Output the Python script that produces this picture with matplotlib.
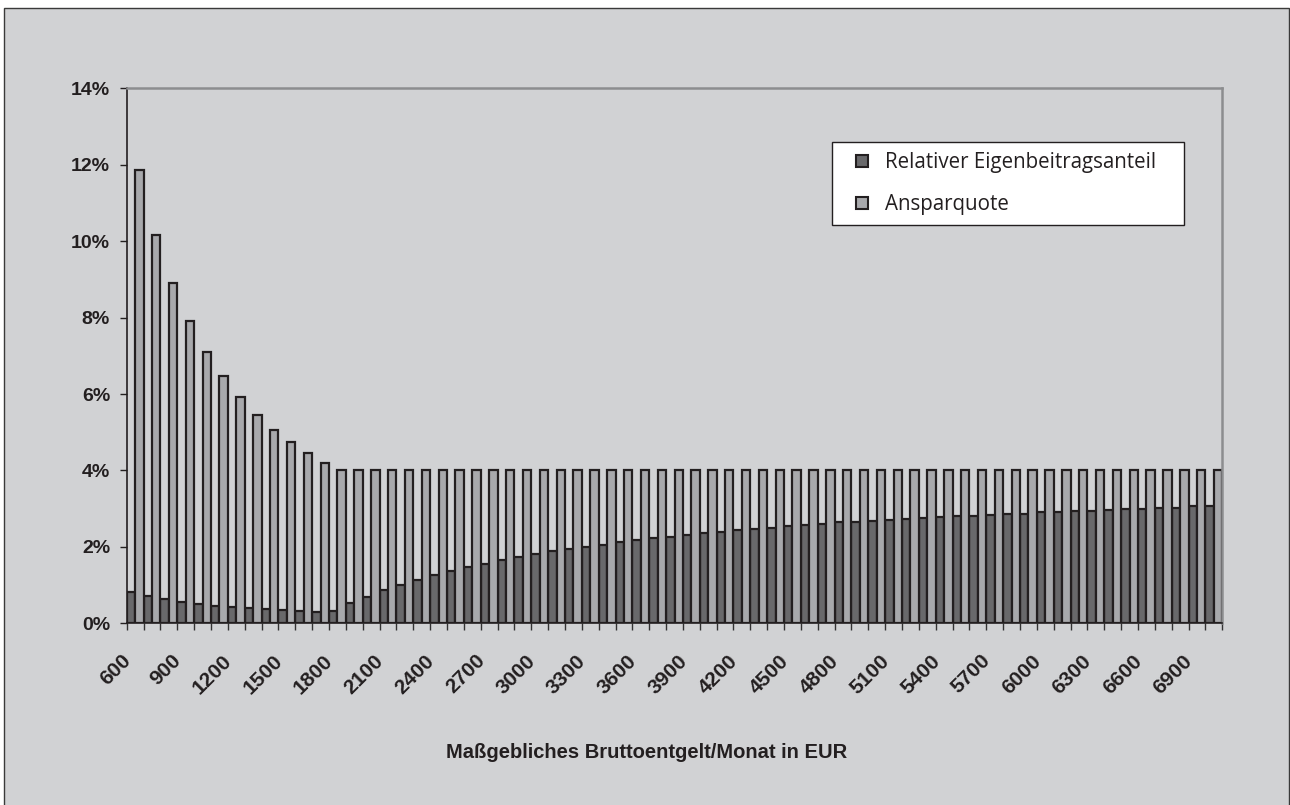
import matplotlib
matplotlib.use("Agg")
import matplotlib.pyplot as plt
import matplotlib.transforms as mtransforms
from matplotlib.patches import Rectangle
from matplotlib.lines import Line2D
import numpy as np

# categories: gross monthly income in EUR
income = np.arange(600, 7100, 100)

# Relativer Eigenbeitragsanteil (%)
eigenbeitrag = [
    0.83, 0.72, 0.63, 0.55, 0.51, 0.46, 0.43, 0.39, 0.37, 0.34, 0.31, 0.30, 0.33,
    0.53, 0.70, 0.86, 1.01, 1.14, 1.27, 1.37, 1.47, 1.56, 1.65, 1.73, 1.81,
    1.88, 1.95, 2.00, 2.06, 2.12, 2.17, 2.23, 2.27, 2.31, 2.36,
    2.40, 2.44, 2.47, 2.50, 2.54, 2.58, 2.60, 2.64, 2.66, 2.69,
    2.71, 2.73, 2.75, 2.78, 2.80, 2.82, 2.84, 2.86, 2.87, 2.90,
    2.92, 2.93, 2.95, 2.97, 2.99, 3.00, 3.01, 3.03, 3.06, 3.07,
]

# Ansparquote (%)
ansparquote = [
    11.87, 10.16, 8.90, 7.91, 7.11, 6.46, 5.92, 5.46, 5.07, 4.75, 4.45, 4.19, 4.00,
    4.00, 4.00, 4.00, 4.00, 4.00, 4.00, 4.00, 4.00, 4.00, 4.00, 4.00, 4.00,
    4.00, 4.00, 4.00, 4.00, 4.00, 4.00, 4.00, 4.00, 4.00, 4.00,
    4.00, 4.00, 4.00, 4.00, 4.00, 4.00, 4.00, 4.00, 4.00, 4.00,
    4.00, 4.00, 4.00, 4.00, 4.00, 4.00, 4.00, 4.00, 4.00, 4.00,
    4.00, 4.00, 4.00, 4.00, 4.00, 4.00, 4.00, 4.00, 4.00, 4.00,
]

yticks = [0, 2, 4, 6, 8, 10, 12, 14]
label_step = 3

BG = "#d1d2d4"
DARK = "#69696b"
LIGHT = "#a8a9ac"
EDGE = "#231f20"
W, H = 1290, 805

fig = plt.figure(figsize=(W / 100, H / 100), dpi=100, facecolor="white")

# outer frame
fig.patches.append(Rectangle((4 / W, -0.02), (1289 - 4) / W, 1 - 8 / H + 0.02,
                             transform=fig.transFigure, facecolor=BG,
                             edgecolor="#3a3a3a", lw=1.0, zorder=-10))

ax = fig.add_axes([126.7 / W, 1 - 623.3 / H, (1222.3 - 126.7) / W, (623.3 - 88.3) / H])
ax.set_facecolor("none")

x = np.arange(len(income))
ax.bar(x, eigenbeitrag, width=0.5, align="edge", color=DARK, edgecolor=EDGE, linewidth=1.6,
       label="Relativer Eigenbeitragsanteil")
ax.bar(x + 0.5, ansparquote, width=0.5, align="edge", color=LIGHT, edgecolor=EDGE, linewidth=1.6,
       label="Ansparquote")

ax.set_xlim(0, len(income))
ax.set_ylim(0, 14)

# y axis
ax.set_yticks(yticks)
ax.set_yticklabels([f"{v}%" for v in yticks], fontsize=14, fontweight="bold",
                   family="Liberation Sans", color="#231f20")
ax.tick_params(axis="y", length=5, width=1.0, pad=7, color="#231f20")

# x axis: tick marks at category boundaries, labels every 3rd category
ax.set_xticks(np.arange(len(income) + 1), minor=True)
ax.tick_params(axis="x", which="minor", length=5, width=1.0, color="#333333")
ax.set_xticks(x[::label_step] + 0.5)
ax.set_xticklabels([str(v) for v in income[::label_step]], rotation=45, ha="right",
                   va="top", rotation_mode="anchor", fontsize=15, fontweight="bold",
                   family="Liberation Sans", color="#231f20")
ax.tick_params(axis="x", which="major", length=0, pad=20)
shift = mtransforms.ScaledTranslation(-14 / 100, 0, fig.dpi_scale_trans)
for lbl in ax.get_xticklabels():
    lbl.set_transform(lbl.get_transform() + shift)

for side in ["left", "bottom"]:
    ax.spines[side].set_color("#231f20")
    ax.spines[side].set_linewidth(1.2)
for side in ["top", "right"]:
    ax.spines[side].set_color("#8c8d8f")
    ax.spines[side].set_linewidth(1.8)

fig.text(647 / W, 1 - 752 / H, "Maßgebliches Bruttoentgelt/Monat in EUR", ha="center",
         va="center", fontsize=14.5, fontweight="bold",
         family="Liberation Sans", color="#231f20")

handles = [
    Line2D([], [], marker="s", linestyle="none", markersize=9, markerfacecolor=DARK,
           markeredgecolor=EDGE, markeredgewidth=1.5),
    Line2D([], [], marker="s", linestyle="none", markersize=9, markerfacecolor=LIGHT,
           markeredgecolor=EDGE, markeredgewidth=1.5),
]
leg = fig.legend(handles, ["Relativer Eigenbeitragsanteil", "Ansparquote"],
                 loc="upper left",
                 bbox_to_anchor=(831.7 / W, 1 - 220.7 / H, (1184.3 - 831.7) / W, 79 / H),
                 mode="expand", borderaxespad=0, frameon=True, fancybox=False, framealpha=1,
                 facecolor="white", edgecolor="#231f20",
                 prop={"family": "Open Sans", "size": 14.8},
                 handlelength=1.95, handletextpad=0.15, borderpad=0.5, labelspacing=1.02)
leg.get_frame().set_linewidth(1.0)
for t in leg.get_texts():
    t.set_color("#231f20")

fig.savefig("out.png", dpi=100, facecolor="white")
